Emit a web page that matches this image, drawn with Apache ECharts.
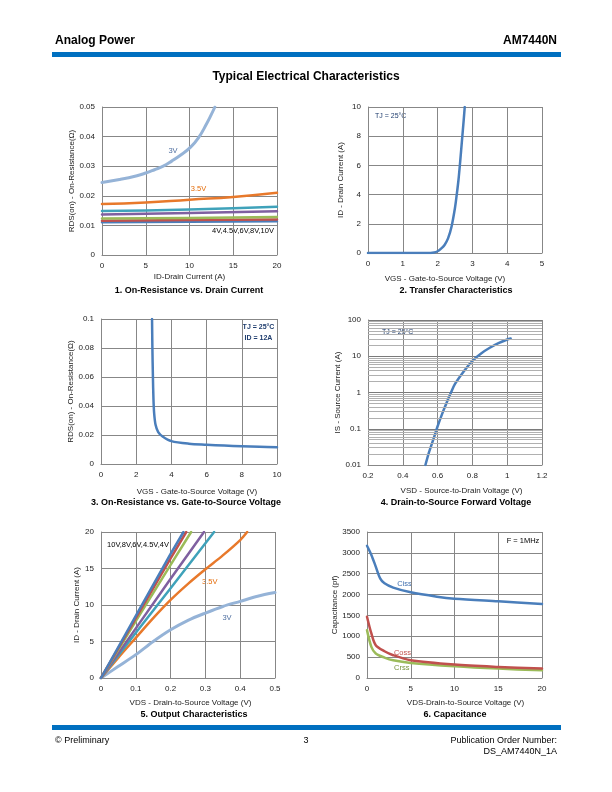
<!DOCTYPE html>
<html><head><meta charset="utf-8">
<script src="https://cdn.jsdelivr.net/npm/echarts@6/dist/echarts.min.js"></script>
<style>html,body{margin:0;padding:0;background:#fff}#c{width:612px;height:792px}</style>
</head><body><div id="c"></div>
<script>
// ---------- Data ----------
// 1. On-Resistance vs Drain Current  [ID (A), RDS(on) (ohm)]
const c1_3V   = [[0,0.0245],[2,0.0255],[4,0.0268],[5,0.0277],[6,0.0288],[7,0.0300],[8,0.0318],[9,0.0338],[10,0.0361],[11,0.0395],[12,0.0446],[12.5,0.0475],[12.9,0.0500]];
const c1_3p5V = [[0,0.0172],[5,0.0177],[10,0.0187],[15,0.0196],[20,0.0210]];
const c1_4V   = [[0,0.0149],[10,0.0154],[20,0.0163]];
const c1_4p5V = [[0,0.0137],[10,0.0142],[20,0.0148]];
const c1_6V   = [[0,0.0123],[10,0.0125],[20,0.0128]];
const c1_8V   = [[0,0.0116],[10,0.0118],[20,0.0120]];
const c1_10V  = [[0,0.0111],[10,0.0112],[20,0.0114]];
// 2. Transfer characteristics [VGS (V), ID (A)]
const c2_id = [[0,0],[1,0],[1.7,0],[1.9,0.04],[2.0,0.12],[2.1,0.3],[2.2,0.55],[2.3,1.0],[2.4,1.8],[2.5,3.1],[2.55,4.0],[2.6,5.0],[2.65,6.3],[2.7,7.7],[2.75,9.1],[2.78,10]];
// 3. RDS(on) vs VGS [VGS (V), RDS(on)]
const c3_rds = [[2.9,0.1],[2.92,0.08],[2.95,0.06],[2.98,0.045],[3.02,0.035],[3.1,0.027],[3.25,0.022],[3.5,0.019],[4,0.0158],[5,0.0140],[6,0.0133],[7,0.0127],[8,0.0123],[9,0.0119],[10,0.0116]];
// 4. Source-drain forward voltage [VSD (V), IS (A)]
const c4_is = [[0.53,0.01],[0.55,0.022],[0.575,0.05],[0.6,0.117],[0.625,0.25],[0.65,0.5],[0.677,1],[0.7,1.72],[0.75,3.8],[0.8,7.5],[0.85,12],[0.9,17.2],[0.95,23],[1.0,29],[1.02,31]];
const c4_minorGrid = [0.02,0.03,0.04,0.05,0.06,0.07,0.08,0.09,0.2,0.3,0.4,0.5,0.6,0.7,0.8,0.9,2,3,4,5,6,7,8,9,20,30,40,50,60,70,80,90];
// 5. Output characteristics [VDS (V), ID (A)]
const c5_10V  = [[0,0],[0.1,8.5],[0.2,17.0],[0.237,20]];
const c5_8V   = [[0,0],[0.1,8.2],[0.2,16.4],[0.245,20]];
const c5_6V   = [[0,0],[0.1,7.8],[0.2,15.5],[0.259,20]];
const c5_4p5V = [[0,0],[0.1,6.8],[0.2,13.6],[0.296,20]];
const c5_4V   = [[0,0],[0.1,6.2],[0.2,12.3],[0.325,20]];
const c5_3p5V = [[0,0],[0.05,2.8],[0.1,5.5],[0.15,8.2],[0.2,10.7],[0.25,12.9],[0.3,14.9],[0.35,16.8],[0.4,18.9],[0.42,20]];
const c5_3V   = [[0,0],[0.05,1.6],[0.1,3.2],[0.15,5.0],[0.2,6.6],[0.25,7.9],[0.3,8.9],[0.35,9.8],[0.4,10.5],[0.45,11.2],[0.5,11.7]];
// 6. Capacitance [VDS (V), C (pF)]
const c6_ciss = [[0,3170],[0.5,2950],[1,2670],[1.5,2390],[2,2270],[3,2167],[5,2054],[8,1950],[10,1902],[15,1838],[20,1774]];
const c6_coss = [[0,1470],[0.5,1067],[1,787],[2,642],[3,546],[5,425],[10,321],[15,265],[20,225]];
const c6_crss = [[0,1148],[0.5,746],[1,586],[2,490],[3,425],[5,361],[10,281],[15,225],[20,185]];

// ---------- Styles ----------
const F = '"Liberation Sans", Arial, sans-serif';
const GRID_C = '#878787';
const COL = {lb:'#95B3D7', or:'#E8792B', te:'#3FA2BA', pu:'#7F60A0', gr:'#9BBB59', re:'#C0504D', bl:'#4A7EBB'};

function base(i, o){ return Object.assign({
  type:'value', gridIndex:i,
  axisLine:{show:true,onZero:false,lineStyle:{color:GRID_C}},
  axisTick:{show:false},
  splitLine:{show:true,lineStyle:{color:GRID_C,width:1}},
  axisLabel:{color:'#222',fontSize:8,fontFamily:F,margin:7,formatter:v=>String(+v.toFixed(6))},
  nameLocation:'middle', nameTextStyle:{color:'#222',fontSize:8,fontFamily:F}
}, o); }
function nts(pad){ return {color:'#222',fontSize:8,fontFamily:F,padding:pad}; }
function ln(i, data, color, w, sm, extra){ return Object.assign({
  type:'line', xAxisIndex:i, yAxisIndex:i, data:data, showSymbol:false, symbol:'none',
  smooth:sm, lineStyle:{color:color,width:w,cap:'round',join:'round'}, itemStyle:{color:color}, silent:true, clip:true, z:3
}, extra||{}); }
function txt(x,y,s,o){ return {type:'text', x:x, y:y, silent:true, style:Object.assign({text:s, fill:'#000', font:'8px '+F, textAlign:'left', textVerticalAlign:'middle'}, o||{})}; }
function cap(x,y,s){ return txt(x,y,s,{font:'bold 9px '+F, textAlign:'center'}); }

const option = {
  animation:false,
  backgroundColor:'#fff',
  grid:[
    {left:102, top:107, width:175, height:148},
    {left:368, top:107, width:174, height:146},
    {left:101, top:319, width:176, height:145},
    {left:368, top:320, width:174, height:145},
    {left:101, top:532, width:174, height:146},
    {left:367, top:532, width:175, height:146}
  ],
  xAxis:[
    base(0,{min:0,max:20,interval:5,name:'ID-Drain Current (A)',nameGap:18}),
    base(1,{min:0,max:5,interval:1,name:'VGS - Gate-to-Source Voltage (V)',nameGap:22,nameTextStyle:nts([0,20,0,0])}),
    base(2,{min:0,max:10,interval:2,name:'VGS - Gate-to-Source Voltage (V)',nameGap:24,nameTextStyle:nts([0,0,0,16])}),
    base(3,{min:0.2,max:1.2,interval:0.2,name:'VSD - Source-to-Drain Voltage (V)',nameGap:22,nameTextStyle:nts([0,0,0,13])}),
    base(4,{min:0,max:0.5,interval:0.1,name:'VDS - Drain-to-Source Voltage (V)',nameGap:21,nameTextStyle:nts([0,0,0,5])}),
    base(5,{min:0,max:20,interval:5,name:'VDS-Drain-to-Source Voltage (V)',nameGap:21,nameTextStyle:nts([0,0,0,22])})
  ],
  yAxis:[
    base(0,{min:0,max:0.05,interval:0.01,name:'RDS(on) - On-Resistance(Ω)',nameGap:25}),
    base(1,{min:0,max:10,interval:2,name:'ID - Drain Current (A)',nameGap:23}),
    base(2,{min:0,max:0.1,interval:0.02,name:'RDS(on) - On-Resistance(Ω)',nameGap:25}),
    base(3,{type:'log',logBase:10,min:0.01,max:100,name:'IS - Source Current (A)',nameGap:23,splitLine:{show:true,lineStyle:{color:'#7a7a7a',width:1}}}),
    base(4,{min:0,max:20,interval:5,name:'ID - Drain Current (A)',nameGap:19}),
    base(5,{min:0,max:3500,interval:500,name:'Capacitance (pf)',nameGap:28})
  ],
  series:[
    ln(0,c1_10V,COL.bl,2.5,true), ln(0,c1_8V,COL.re,2.5,true), ln(0,c1_6V,COL.gr,2.5,true), ln(0,c1_4p5V,COL.pu,2.5,true), ln(0,c1_4V,COL.te,2.5,true),
    ln(0,c1_3p5V,COL.or,2.5,true), ln(0,c1_3V,COL.lb,3,true),
    ln(1,c2_id,COL.bl,2.5,0.3),
    ln(2,c3_rds,COL.bl,2.5,0.3),
    {type:'line', xAxisIndex:3, yAxisIndex:3, data:[], silent:true, z:1,
     markLine:{silent:true,symbol:['none','none'],label:{show:false},lineStyle:{color:'#b0b0b0',width:1,type:'solid'},data:c4_minorGrid.map(v=>({yAxis:v}))}},
    ln(3,c4_is,COL.bl,2.5,0.3),
    ln(4,c5_3V,COL.lb,3,0.3), ln(4,c5_3p5V,COL.or,2.5,0.3), ln(4,c5_4V,COL.te,2.5,false), ln(4,c5_4p5V,COL.pu,2.5,false), ln(4,c5_6V,COL.gr,2.5,false), ln(4,c5_8V,COL.re,2.5,false), ln(4,c5_10V,COL.bl,2.5,false),
    ln(5,c6_crss,COL.gr,2.5,0.3), ln(5,c6_coss,COL.re,2.5,0.3), ln(5,c6_ciss,COL.bl,2.5,0.3)
  ],
  graphic:[
    txt(55,41,'Analog Power',{font:'bold 12px '+F}),
    txt(557,41,'AM7440N',{font:'bold 12px '+F, textAlign:'right'}),
    {type:'rect', silent:true, shape:{x:52,y:52,width:509,height:5}, style:{fill:'#0070C0'}},
    txt(306,77,'Typical Electrical Characteristics',{font:'bold 12px '+F, textAlign:'center'}),
    cap(189,291,'1. On-Resistance vs. Drain Current'),
    cap(456,291,'2. Transfer Characteristics'),
    cap(186,503,'3. On-Resistance vs. Gate-to-Source Voltage'),
    cap(456,503,'4. Drain-to-Source Forward Voltage'),
    cap(194,715,'5. Output Characteristics'),
    cap(455,715,'6. Capacitance'),
    // in-plot annotations
    txt(173,151,'3V',{font:'7.5px '+F, fill:'#4F6FA0', textAlign:'center'}),
    txt(198.5,189,'3.5V',{font:'7.5px '+F, fill:'#E46C0A', textAlign:'center'}),
    txt(243,231,'4V,4.5V,6V,8V,10V',{font:'7.5px '+F, fill:'#000', textAlign:'center'}),
    txt(375,116,'TJ = 25°C',{font:'7px '+F, fill:'#1F3D6E'}),
    txt(258.5,327,'TJ = 25°C',{font:'bold 7px '+F, fill:'#1F3D6E', textAlign:'center'}),
    txt(258.5,338,'ID = 12A',{font:'bold 7px '+F, fill:'#1F3D6E', textAlign:'center'}),
    txt(382,332,'TJ = 25°C',{font:'7px '+F, fill:'#1F3D6E'}),
    txt(138,545,'10V,8V,6V,4.5V,4V',{font:'7.5px '+F, fill:'#000', textAlign:'center'}),
    txt(209.7,582,'3.5V',{font:'7.5px '+F, fill:'#E46C0A', textAlign:'center'}),
    txt(227,618,'3V',{font:'7.5px '+F, fill:'#4F6FA0', textAlign:'center'}),
    txt(523,541,'F = 1MHz',{font:'7.5px '+F, fill:'#000', textAlign:'center'}),
    txt(404.5,584,'Ciss',{font:'7.5px '+F, fill:'#3F6FAF', textAlign:'center'}),
    txt(402.5,653,'Coss',{font:'7.5px '+F, fill:'#C0504D', textAlign:'center'}),
    txt(401.7,668,'Crss',{font:'7.5px '+F, fill:'#77933C', textAlign:'center'}),
    // footer
    {type:'rect', silent:true, shape:{x:52,y:725,width:509,height:5}, style:{fill:'#0070C0'}},
    txt(55,741,'© Preliminary',{font:'9px '+F}),
    txt(306,741,'3',{font:'9px '+F, textAlign:'center'}),
    txt(557,741,'Publication Order Number:',{font:'9px '+F, textAlign:'right'}),
    txt(557,752,'DS_AM7440N_1A',{font:'9px '+F, textAlign:'right'})
  ]
};
const chart = echarts.init(document.getElementById('c'), null, {renderer:'canvas', width:612, height:792});
chart.setOption(option);
</script></body></html>
